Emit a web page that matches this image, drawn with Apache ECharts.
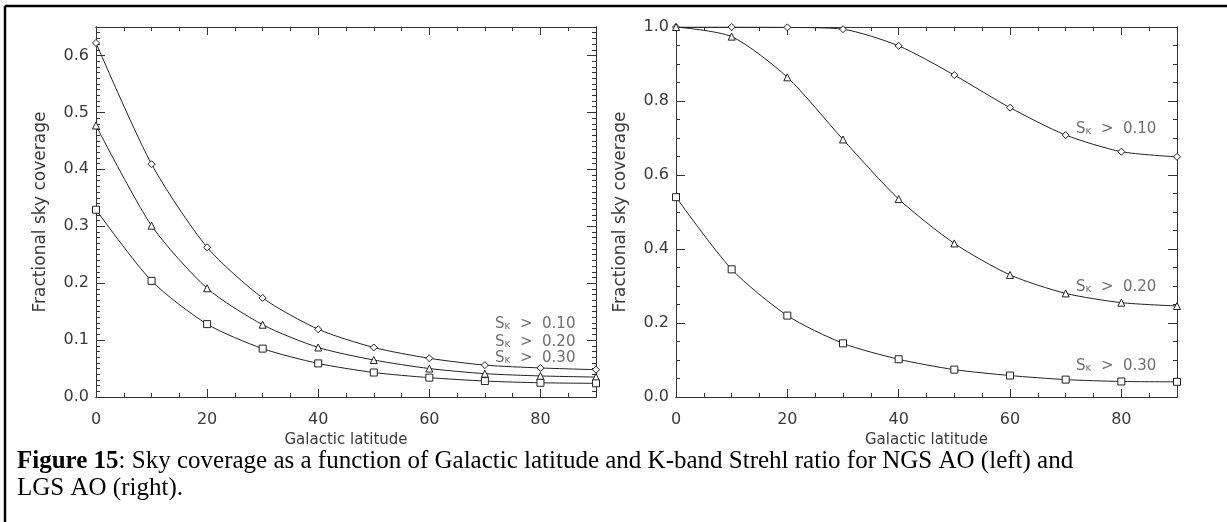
<!DOCTYPE html>
<html>
<head>
<meta charset="utf-8">
<script src="https://cdn.jsdelivr.net/npm/echarts@6/dist/echarts.min.js"></script>
<style>
html,body{margin:0;padding:0;background:#fff;}
#chart{width:1227px;height:522px;}
</style>
</head>
<body>
<div id="chart"></div>
<script>
// ---- data ----
const latitudes = [0, 10, 20, 30, 40, 50, 60, 70, 80, 90];

// NGS AO (left)
const ngsS10 = [0.622, 0.409, 0.263, 0.174, 0.119, 0.087, 0.068, 0.056, 0.051, 0.048];
const ngsS20 = [0.477, 0.301, 0.191, 0.127, 0.087, 0.065, 0.050, 0.041, 0.037, 0.035];
const ngsS30 = [0.329, 0.204, 0.128, 0.085, 0.059, 0.043, 0.034, 0.028, 0.025, 0.024];

// LGS AO (right)
const lgsS10 = [1.000, 1.000, 0.999, 0.994, 0.949, 0.870, 0.782, 0.708, 0.663, 0.649];
const lgsS20 = [1.000, 0.974, 0.864, 0.696, 0.535, 0.415, 0.330, 0.280, 0.255, 0.246];
const lgsS30 = [0.540, 0.345, 0.220, 0.145, 0.102, 0.074, 0.058, 0.047, 0.042, 0.041];

const seriesThresholds = ['0.10', '0.20', '0.30'];
const symbols = ['diamond', 'triangle', 'rect'];

// label anchor points (data coordinates, right end of text)
const ngsLabelPos = [[86.3, 0.128], [86.3, 0.0965], [86.3, 0.068]];
const lgsLabelPos = [[86.3, 0.724], [86.3, 0.297], [86.3, 0.084]];

const yTitle = 'Fractional sky coverage';
const xTitle = 'Galactic latitude';
const captionBold = 'Figure 15';
const captionRest1 = ': Sky coverage as a function of Galactic latitude and K-band Strehl ratio for NGS AO (left) and';
const captionLine2 = 'LGS AO (right).';

// ---- build ----
const AX = '#333';
const TXT = '#3a3a3a';
const FONT = 'DejaVu Sans';

function pairs(ys) { return latitudes.map((x, i) => [x, ys[i]]); }

function xAxes(g) {
  const base = {gridIndex: g, type: 'value', min: 0, max: 90, splitLine: {show: false},
    axisLine: {show: true, onZero: false, lineStyle: {color: AX, width: 1}}};
  return [
    Object.assign({}, base, {position: 'bottom', interval: 20,
      axisTick: {inside: true, length: 8, lineStyle: {color: AX}},
      axisLabel: {color: TXT, fontFamily: FONT, fontSize: 16, margin: 15, showMaxLabel: false},
      name: xTitle, nameLocation: 'middle', nameGap: 33,
      nameTextStyle: {color: TXT, fontFamily: FONT, fontSize: 15}}),
    Object.assign({}, base, {position: 'bottom', interval: 5,
      axisTick: {inside: true, length: 4, lineStyle: {color: AX}}, axisLabel: {show: false}}),
    Object.assign({}, base, {position: 'top', interval: 20,
      axisTick: {inside: true, length: 8, lineStyle: {color: AX}}, axisLabel: {show: false}}),
    Object.assign({}, base, {position: 'top', interval: 5,
      axisTick: {inside: true, length: 4, lineStyle: {color: AX}}, axisLabel: {show: false}})
  ];
}

function yAxes(g, max, major, minor, showMax) {
  const base = {gridIndex: g, type: 'value', min: 0, max: max, splitLine: {show: false},
    axisLine: {show: true, onZero: false, lineStyle: {color: AX, width: 1}}};
  return [
    Object.assign({}, base, {position: 'left', interval: major,
      axisTick: {inside: true, length: 9, lineStyle: {color: AX}},
      axisLabel: {color: TXT, fontFamily: FONT, fontSize: 16, margin: 7, showMaxLabel: showMax,
        formatter: v => v.toFixed(1)},
      name: yTitle, nameLocation: 'middle', nameGap: 47,
      nameTextStyle: {color: TXT, fontFamily: FONT, fontSize: 17}}),
    Object.assign({}, base, {position: 'left', interval: minor,
      axisTick: {inside: true, length: 4, lineStyle: {color: AX}}, axisLabel: {show: false}}),
    Object.assign({}, base, {position: 'right', interval: major,
      axisTick: {inside: true, length: 9, lineStyle: {color: AX}}, axisLabel: {show: false}}),
    Object.assign({}, base, {position: 'right', interval: minor,
      axisTick: {inside: true, length: 4, lineStyle: {color: AX}}, axisLabel: {show: false}})
  ];
}

function lineSeries(g, dataArr) {
  return dataArr.map((ys, i) => ({
    type: 'line', xAxisIndex: g * 4, yAxisIndex: g * 4, data: pairs(ys),
    smooth: 0.25, symbol: symbols[i], symbolSize: 7, showAllSymbol: true,
    itemStyle: {color: '#fff', borderColor: '#222', borderWidth: 1},
    lineStyle: {color: '#222', width: 1}, z: 3, silent: true, animation: false
  }));
}

function labelSeries(g, posArr) {
  return [{
    type: 'scatter', xAxisIndex: g * 4, yAxisIndex: g * 4, symbolSize: 0,
    data: posArr.map((p, i) => ({value: p, name: seriesThresholds[i]})),
    label: {show: true, position: 'left', distance: 0,
      formatter: p => '{s|S}{k|ᴋ}{s|  >  ' + p.name + '}',
      rich: {
        s: {color: '#4a4a4a', fontFamily: FONT, fontSize: 15},
        k: {color: '#4a4a4a', fontFamily: FONT, fontSize: 10, padding: [5, 0, 0, 0]}
      }},
    silent: true, animation: false
  }];
}

const chart = echarts.init(document.getElementById('chart'), null, {renderer: 'canvas'});
chart.setOption({
  animation: false,
  backgroundColor: '#fff',
  grid: [
    {left: 96, top: 27, width: 500, height: 370},
    {left: 676, top: 27, width: 501, height: 370}
  ],
  xAxis: xAxes(0).concat(xAxes(1)),
  yAxis: yAxes(0, 0.65, 0.1, 0.01, false).concat(yAxes(1, 1.0, 0.2, 0.05, true)),
  series: lineSeries(0, [ngsS10, ngsS20, ngsS30])
    .concat(labelSeries(0, ngsLabelPos))
    .concat(lineSeries(1, [lgsS10, lgsS20, lgsS30]))
    .concat(labelSeries(1, lgsLabelPos)),
  graphic: [
    {type: 'line', shape: {x1: 5, y1: 6, x2: 1227, y2: 6}, style: {stroke: '#000', lineWidth: 2.5}},
    {type: 'line', shape: {x1: 5, y1: 6, x2: 5, y2: 522}, style: {stroke: '#000', lineWidth: 2.5}},
    {type: 'text', left: 17, top: 449, style: {
      text: '{b|' + captionBold + '}' + captionRest1,
      fontFamily: 'Liberation Serif', fontSize: 25, fill: '#000',
      rich: {b: {fontWeight: 'bold', fontFamily: 'Liberation Serif', fontSize: 25, fill: '#000'}}}},
    {type: 'text', left: 17, top: 476, style: {
      text: captionLine2, fontFamily: 'Liberation Serif', fontSize: 25, fill: '#000'}}
  ]
});
</script>
</body>
</html>
